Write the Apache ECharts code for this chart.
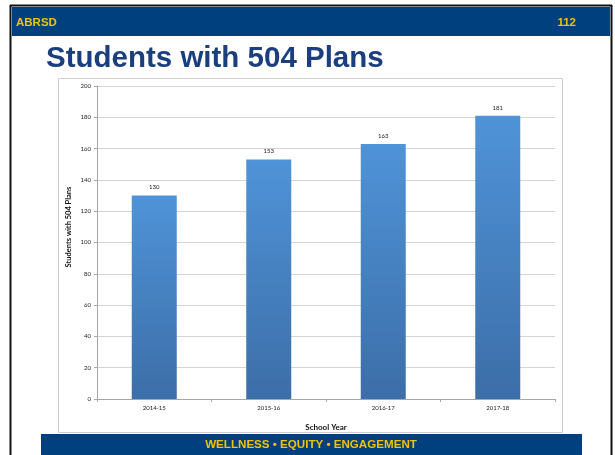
<!DOCTYPE html>
<html>
<head>
<meta charset="utf-8">
<title>Students with 504 Plans</title>
<script src="https://cdn.jsdelivr.net/npm/echarts@6/dist/echarts.min.js"></script>
<style>
  html, body { margin: 0; padding: 0; background: #ffffff; }
  #chart { width: 615px; height: 455px; }
</style>
</head>
<body>
<div id="chart"></div>
<script>
// School years and the number of students with 504 plans in each
const schoolYears = ['2014-15', '2015-16', '2016-17', '2017-18'];
const planCounts = [130, 153, 163, 181];

const NAVY = '#00407f';
const GOLD = '#f2c300';
const chartFont = 'Lato, "Open Sans", sans-serif';
const slideFont = '"Liberation Sans", Arial, sans-serif';

const chart = echarts.init(document.getElementById('chart'), null, { renderer: 'canvas' });

chart.setOption({
  animation: false,
  backgroundColor: '#ffffff',
  graphic: [
    // slide frame
    { type: 'line', shape: { x1: 10.5, y1: 5, x2: 10.5, y2: 455 }, style: { stroke: '#111', lineWidth: 2 }, z: 1 },
    { type: 'line', shape: { x1: 611.5, y1: 5, x2: 611.5, y2: 455 }, style: { stroke: '#111', lineWidth: 2 }, z: 1 },
    { type: 'line', shape: { x1: 10, y1: 5.5, x2: 612, y2: 5.5 }, style: { stroke: '#111', lineWidth: 2 }, z: 1 },
    // header band
    { type: 'rect', shape: { x: 12, y: 7, width: 598, height: 29 }, style: { fill: NAVY }, z: 1 },
    { type: 'text', left: 16, top: 16.5, style: { text: 'ABRSD', fill: GOLD, font: 'bold 11.5px ' + slideFont }, z: 2 },
    { type: 'text', right: 39, top: 16.5, style: { text: '112', fill: GOLD, font: 'bold 11.5px ' + slideFont, align: 'right' }, z: 2 },
    // slide title
    { type: 'text', left: 46, top: 44, style: { text: 'Students with 504 Plans', fill: '#1b3f7e', font: 'bold 29.5px ' + slideFont }, z: 2 },
    // chart frame
    { type: 'rect', shape: { x: 58.5, y: 78.5, width: 504, height: 354 }, style: { fill: 'none', stroke: '#cfcfcf', lineWidth: 1 }, z: 0 },
    // y axis title
    { type: 'text', x: 69, y: 227, rotation: Math.PI / 2,
      style: { text: 'Students with 504 Plans', fill: '#111', font: 'bold 7.5px ' + chartFont, align: 'center', verticalAlign: 'middle' }, z: 2 },
    // footer band
    { type: 'rect', shape: { x: 41, y: 434, width: 541, height: 21 }, style: { fill: NAVY }, z: 1 },
    { type: 'text', x: 311, y: 445, style: { text: 'WELLNESS \u2022 EQUITY \u2022 ENGAGEMENT', fill: GOLD, font: 'bold 11.6px ' + slideFont, align: 'center', verticalAlign: 'middle' }, z: 2 }
  ],
  grid: { left: 97, top: 86, right: 60, bottom: 56, containLabel: false },
  xAxis: {
    type: 'category',
    data: schoolYears,
    name: 'School Year',
    nameLocation: 'middle',
    nameGap: 24,
    nameTextStyle: { fontFamily: chartFont, fontWeight: 'bold', fontSize: 8, color: '#111' },
    axisLine: { lineStyle: { color: '#a6a6a6', width: 1 } },
    axisTick: { show: true, length: 3, lineStyle: { color: '#a6a6a6' } },
    axisLabel: { fontFamily: chartFont, fontSize: 6, color: '#222', margin: 6 }
  },
  yAxis: {
    type: 'value',
    min: 0,
    max: 200,
    interval: 20,
    axisLine: { show: true, lineStyle: { color: '#a6a6a6', width: 1 } },
    axisTick: { show: true, length: 3, lineStyle: { color: '#a6a6a6' } },
    axisLabel: { fontFamily: chartFont, fontSize: 6, color: '#222', margin: 6 },
    splitLine: { lineStyle: { color: '#d4d4d4', width: 1 } }
  },
  series: [{
    type: 'bar',
    data: planCounts,
    barWidth: 45,
    itemStyle: {
      color: new echarts.graphic.LinearGradient(0, 0, 0, 1, [
        { offset: 0, color: '#4f93d8' },
        { offset: 1, color: '#3c6ea8' }
      ])
    },
    label: {
      show: true,
      position: 'top',
      distance: 5,
      fontFamily: chartFont,
      fontSize: 6,
      color: '#222'
    }
  }]
});
</script>
</body>
</html>
